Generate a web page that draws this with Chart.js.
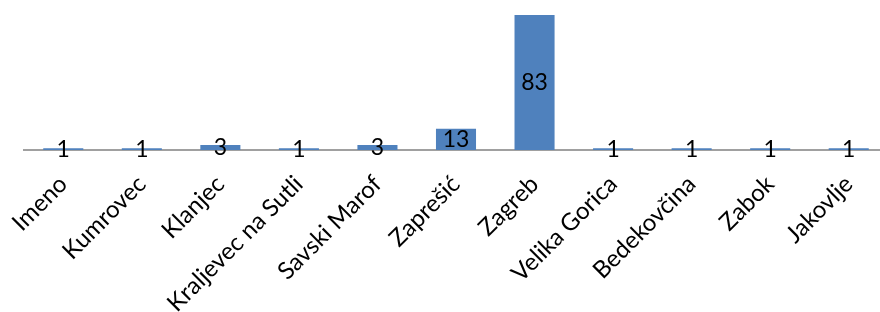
<!DOCTYPE html>
<html>
<head>
<meta charset="utf-8">
<script src="https://cdn.jsdelivr.net/npm/chart.js@4"></script>
<style>
  html, body { margin: 0; padding: 0; background: #fff; overflow: hidden; }
  #wrap { width: 888px; height: 312px; }
</style>
</head>
<body>
<div id="wrap"><canvas id="grafico"></canvas></div>
<script>
// categorias e valores
const mjesta = ['Imeno', 'Kumrovec', 'Klanjec', 'Kraljevec na Sutli', 'Savski Marof', 'Zaprešić', 'Zagreb', 'Velika Gorica', 'Bedekovčina', 'Zabok', 'Jakovlje'];
const broj = [1, 1, 3, 1, 3, 13, 83, 1, 1, 1, 1];

// etikete u sredini stupca
const oznake = {
    id: 'oznake',
    afterDatasetsDraw(chart) {
        const c = chart.ctx;
        const meta = chart.getDatasetMeta(0);
        c.save();
        c.font = '23px Lato';
        c.fillStyle = '#000';
        c.textAlign = 'center';
        c.textBaseline = 'middle';
        meta.data.forEach((bar, i) => {
            const y = (bar.y + bar.base) / 2;
            c.fillText(String(broj[i]), bar.x, y);
        });
        c.restore();
    }
};

const ctx = document.getElementById('grafico').getContext('2d');
new Chart(ctx, {
    type: 'bar',
    data: {
        labels: mjesta,
        datasets: [{
            data: broj,
            backgroundColor: '#4f81bd',
            barPercentage: 0.51,
            categoryPercentage: 1
        }]
    },
    options: {
        responsive: true,
        maintainAspectRatio: false,
        animation: false,
        layout: { padding: { left: 24, right: 0, top: 15, bottom: 0 } },
        plugins: { legend: { display: false }, tooltip: { enabled: false } },
        scales: {
            y: { display: false, min: 0, max: 83 },
            x: {
                grid: { display: false },
                border: { display: true, color: '#a0a0a0', width: 2 },
                ticks: {
                    color: '#000',
                    font: { family: 'Lato', size: 24 },
                    autoSkip: false,
                    maxRotation: 45,
                    minRotation: 45,
                    padding: 12
                },
                afterFit(scale) { scale.height = 162; }
            }
        }
    },
    plugins: [oznake]
});
</script>
</body>
</html>
